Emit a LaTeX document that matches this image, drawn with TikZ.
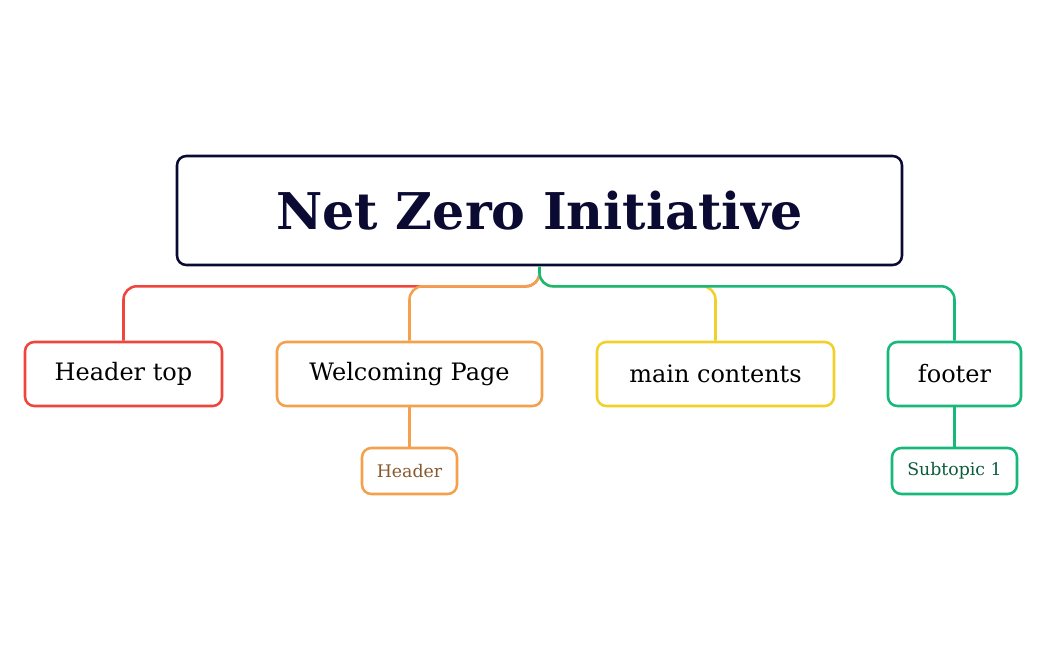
\documentclass[tikz,border=0pt]{standalone}
\usepackage{fontspec}
\setmainfont{DejaVu Serif}
\begin{document}
\begin{tikzpicture}[x=0.75pt,y=-0.75pt,
  box/.style={draw,line width=1.9pt,rounded corners=7pt,align=center,inner sep=0pt,fill=white},
  link/.style={line width=1.9pt,rounded corners=10pt}]
\definecolor{cred}{HTML}{F0453C}
\definecolor{corange}{HTML}{F4A04C}
\definecolor{cyellow}{HTML}{F2D02A}
\definecolor{cgreen}{HTML}{17B97B}
\definecolor{croot}{HTML}{0B0A32}
\useasboundingbox (0,0) rectangle (1046,650);
\node[box,draw=croot,minimum width=725*0.75pt,minimum height=109*0.75pt,text=croot,font=\fontsize{38}{44}\selectfont\bfseries] (root) at (539.5,210.5) {Net Zero Initiative};
\node[box,draw=cred,minimum width=197*0.75pt,minimum height=64*0.75pt,font=\fontsize{18}{22}\selectfont] (a) at (123.5,374) {Header top};
\node[box,draw=corange,minimum width=265*0.75pt,minimum height=64*0.75pt,font=\fontsize{18}{22}\selectfont] (b) at (409.5,374) {Welcoming Page};
\node[box,draw=cyellow,minimum width=237*0.75pt,minimum height=64*0.75pt,font=\fontsize{18}{22}\selectfont] (c) at (715.5,374) {main contents};
\node[box,draw=cgreen,minimum width=133*0.75pt,minimum height=64*0.75pt,font=\fontsize{18}{22}\selectfont] (d) at (954.5,374) {footer};
\node[box,draw=corange,minimum width=95*0.75pt,minimum height=46*0.75pt,text=brown!70!black,font=\fontsize{13}{16}\selectfont] (b1) at (409.5,471) {Header};
\node[box,draw=cgreen,minimum width=125*0.75pt,minimum height=46*0.75pt,text=cgreen!50!black,font=\fontsize{13}{16}\selectfont] (d1) at (954.5,471) {Subtopic 1};
\draw[link,cred] (root.south) -- ++(0,20) -| (a.north);
\draw[link,corange] (root.south) -- ++(0,20) -| (b.north);
\draw[link,cyellow] (root.south) -- ++(0,20) -| (c.north);
\draw[link,cgreen] (root.south) -- ++(0,20) -| (d.north);
\draw[link,corange] (b.south) -- (b1.north);
\draw[link,cgreen] (d.south) -- (d1.north);
\end{tikzpicture}
\end{document}
